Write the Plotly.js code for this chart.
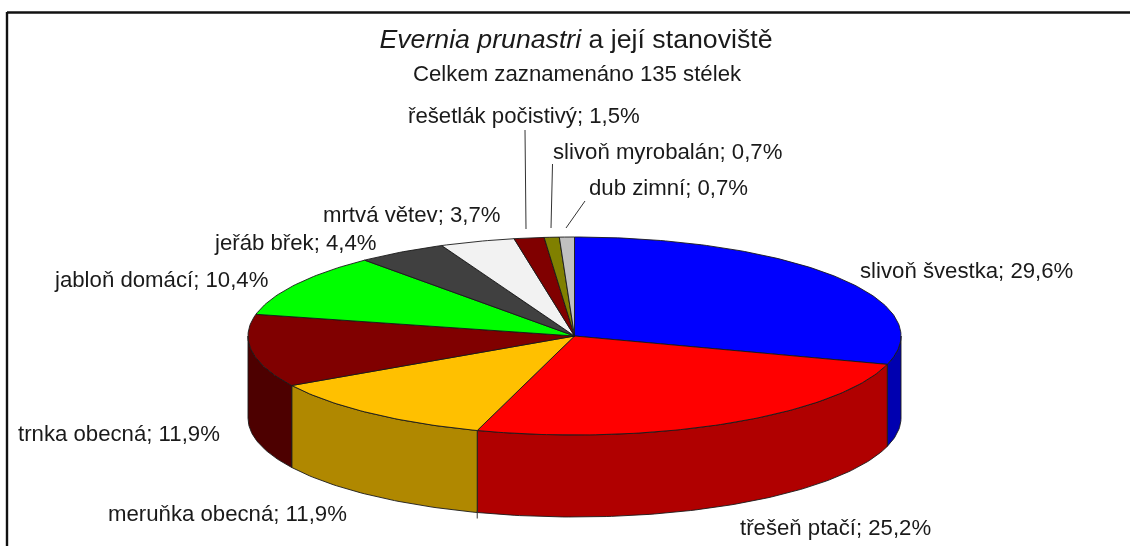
<!DOCTYPE html>
<html><head><meta charset="utf-8">
<script src="https://cdn.plot.ly/plotly-3.0.1.min.js"></script>
<style>html,body{margin:0;padding:0;background:#fff}#c{width:1130px;height:546px;filter:blur(0.55px)}</style>
</head><body><div id="c"></div>
<script>
const categories = ["slivoň švestka","třešeň ptačí","meruňka obecná","trnka obecná","jabloň domácí","jeřáb břek","mrtvá větev","řešetlák počistivý","slivoň myrobalán","dub zimní"];
const counts = [40,34,16,16,14,6,5,2,1,1];
const percentLabels = ["29,6%","25,2%","11,9%","11,9%","10,4%","4,4%","3,7%","1,5%","0,7%","0,7%"];
const topColors = ["#0000ff","#ff0000","#ffc000","#800000","#00ff00","#404040","#f2f2f2","#800000","#808000","#c0c0c0"];
const sideColors = ["#0000b0","#b00000","#b08800","#4d0000","#00b000","#2c2c2c","#a9a9a9","#580000","#585800","#868686"];
const labelX = [860,740,108,18,54,214,323,408,553,589];
const labelY = [270,527,513,433,279,242,214,115,151,187];

const CX=574.5, CY=336, RX=326.5, RY=99, DEPTH=82;
const total = counts.reduce((a,b)=>a+b,0);
const px = t => CX+RX*Math.sin(t), py = (t,d=0) => CY-RY*Math.cos(t)+d;
const arc = (a,b) => { const n=Math.max(2,Math.ceil((b-a)*60)); const r=[]; for(let i=0;i<=n;i++) r.push(a+(b-a)*i/n); return r; };
const sides=[], tops=[];
let cum=0, stubAngle=0;
const lineStyle={color:"#1a1a1a",width:0.9};
counts.forEach((v,i)=>{
  const a=cum/total*2*Math.PI; cum+=v; const b=cum/total*2*Math.PI;
  if(i===1) stubAngle=b;
  const sa=Math.max(a,Math.PI/2), sb=Math.min(b,3*Math.PI/2);
  if(sb>sa){
    const ts=arc(sa,sb);
    sides.push({x:ts.map(px).concat(ts.slice().reverse().map(px),[px(sa)]),
      y:ts.map(t=>py(t)).concat(ts.slice().reverse().map(t=>py(t,DEPTH)),[py(sa)]),
      type:"scatter",mode:"lines",fill:"toself",fillcolor:sideColors[i],line:lineStyle,hoverinfo:"skip",showlegend:false});
  }
  const ts=arc(a,b);
  tops.push({x:[CX].concat(ts.map(px),[CX]),y:[CY].concat(ts.map(t=>py(t)),[CY]),
    type:"scatter",mode:"lines",fill:"toself",fillcolor:topColors[i],line:lineStyle,name:categories[i],hoverinfo:"name",showlegend:false});
});
const leaders=[
  {x:[525,526],y:[130,229]},
  {x:[552.5,551],y:[164,228]},
  {x:[585,566],y:[201,228]},
  {x:[px(stubAngle),px(stubAngle)],y:[py(stubAngle,DEPTH)-2,py(stubAngle,DEPTH)+6]}
].map(l=>({x:l.x,y:l.y,type:"scatter",mode:"lines",line:{color:"#333",width:1},hoverinfo:"skip",showlegend:false}));
const font={family:"Liberation Sans, Arial, sans-serif",color:"#1a1a1a"};
const annotations=categories.map((c,i)=>({text:c+"; "+percentLabels[i],x:labelX[i],y:labelY[i],xref:"x",yref:"y",xanchor:"left",yanchor:"middle",showarrow:false,xshift:-2,
  font:{...font,size:22.2}}));
annotations.push({text:"Celkem zaznamenáno 135 stélek",x:577,y:73,xref:"x",yref:"y",xanchor:"center",yanchor:"middle",showarrow:false,font:{...font,size:22.2}});
const layout={
  width:1130,height:546,margin:{l:0,r:0,t:0,b:0},paper_bgcolor:"#fff",plot_bgcolor:"#fff",showlegend:false,
  title:{text:"<i>Evernia prunastri</i> a její stanoviště",x:576/1130,xanchor:"center",y:1-39/546,yanchor:"middle",font:{...font,size:26.7}},
  xaxis:{range:[0,1130],visible:false,fixedrange:true},
  yaxis:{range:[546,0],visible:false,fixedrange:true},
  annotations,
  shapes:[{type:"line",xref:"x",yref:"y",x0:7,x1:1130,y0:12.5,y1:12.5,line:{color:"#111",width:2.4}},
          {type:"line",xref:"x",yref:"y",x0:7,x1:7,y0:12,y1:546,line:{color:"#111",width:2.4}}]
};
Plotly.newPlot("c",[...sides,...tops,...leaders],layout,{displayModeBar:false,staticPlot:true});
</script></body></html>
